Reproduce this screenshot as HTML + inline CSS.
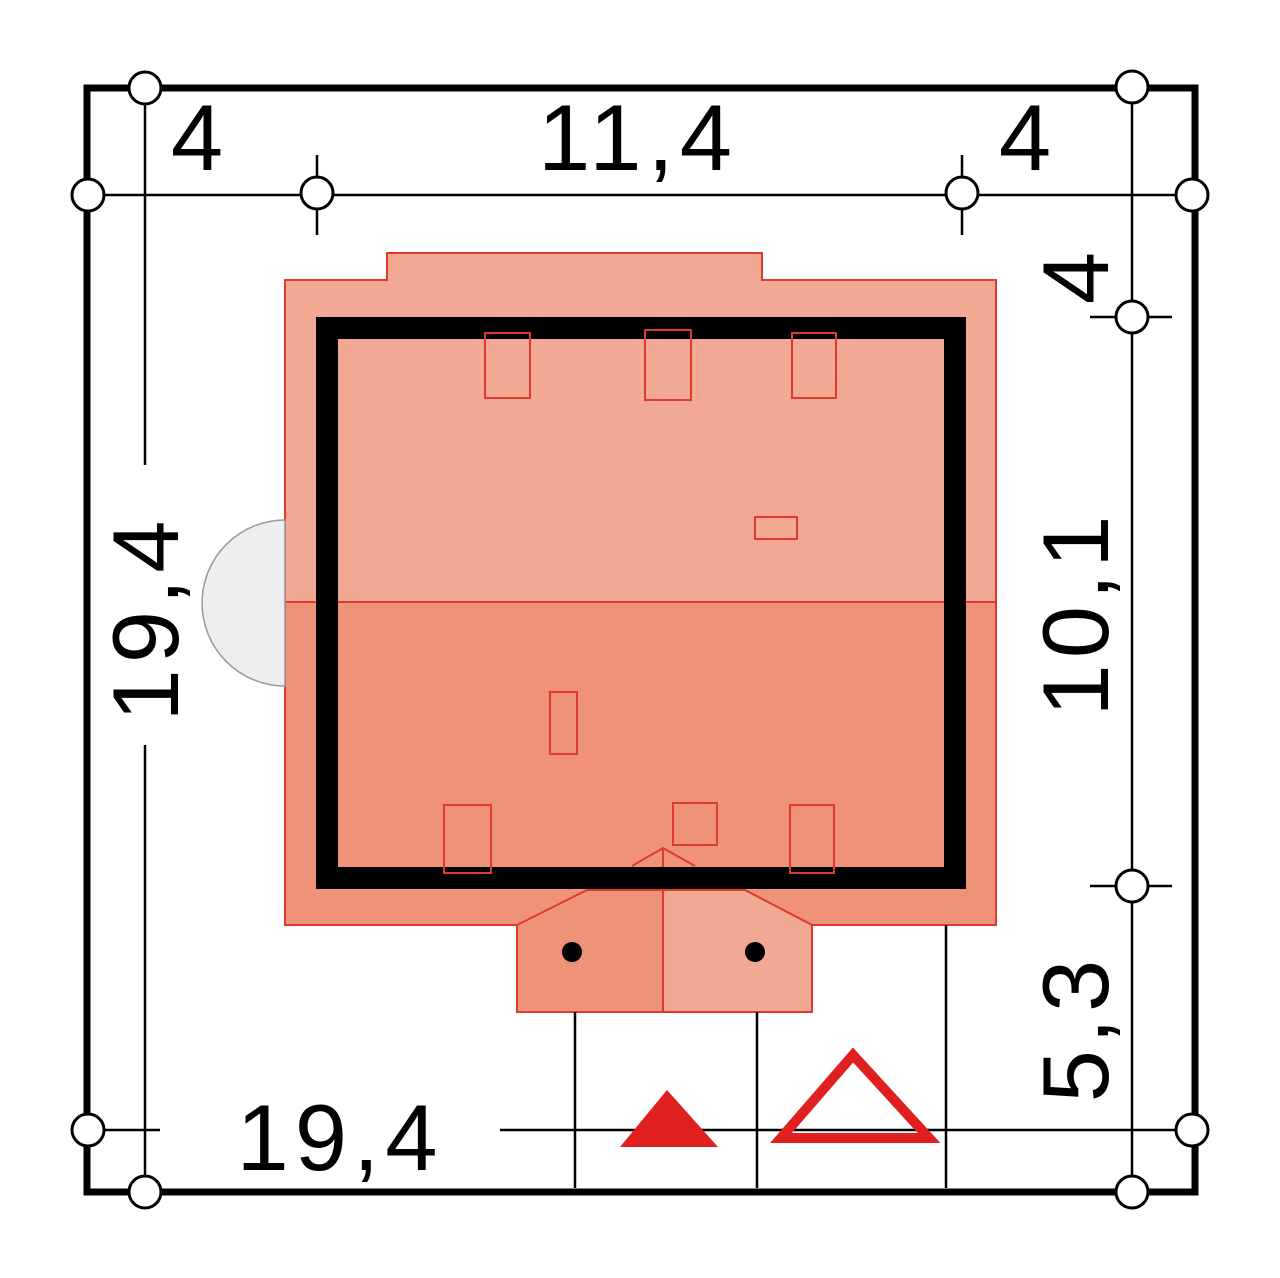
<!DOCTYPE html>
<html><head><style>body{margin:0;background:#fff}svg{display:block}</style></head><body>
<svg width="1280" height="1278" viewBox="0 0 1280 1278" xmlns="http://www.w3.org/2000/svg" font-family="Liberation Sans, sans-serif">
<rect width="1280" height="1278" fill="#fff"/>
<!-- roof -->
<polygon points="285,280 387,280 387,253 762,253 762,280 996,280 996,602 285,602" fill="#f2a994"/>
<polygon points="285,602 996,602 996,925 285,925" fill="#ee9279"/>
<polygon points="285,280 387,280 387,253 762,253 762,280 996,280 996,925 285,925" fill="none" stroke="#e03a30" stroke-width="2"/>
<line x1="285" y1="602" x2="996" y2="602" stroke="#e03a30" stroke-width="2"/>
<path d="M285,520 A83,83 0 0 0 285,686 Z" fill="#eeeef0" stroke="#999" stroke-width="1.5"/>
<!-- porch -->
<polygon points="517,925 587,890 663,890 663,1012 517,1012" fill="#ee9279" stroke="#e03a30" stroke-width="2"/>
<polygon points="663,890 745,890 812,925 812,1012 663,1012" fill="#f2a994" stroke="#e03a30" stroke-width="2"/>
<polyline points="632,866 663,848 695,866" fill="none" stroke="#e03a30" stroke-width="2"/>
<line x1="663" y1="848" x2="663" y2="1012" stroke="#e03a30" stroke-width="2"/>
<circle cx="572" cy="952" r="10" fill="#000"/><circle cx="755" cy="952" r="10" fill="#000"/>
<!-- wall -->
<rect x="327" y="328" width="628" height="550" fill="none" stroke="#000" stroke-width="22"/>
<!-- windows -->
<g fill="none" stroke="#e03a30" stroke-width="2">
<rect x="485" y="333" width="45" height="65"/><rect x="645" y="330" width="46" height="70"/><rect x="792" y="333" width="44" height="65"/>
<rect x="755" y="517" width="42" height="22"/><rect x="550" y="692" width="27" height="62"/>
<rect x="444" y="805" width="47" height="68"/><rect x="673" y="803" width="44" height="42"/><rect x="790" y="805" width="44" height="68"/>
</g>
<!-- outer frame -->
<rect x="87" y="88" width="1108" height="1104" fill="none" stroke="#000" stroke-width="7"/>
<g stroke="#000" stroke-width="2.5" fill="none">
<line x1="145" y1="88" x2="145" y2="465"/><line x1="145" y1="745" x2="145" y2="1192"/>
<line x1="88" y1="195" x2="1192" y2="195"/>
<line x1="317" y1="155" x2="317" y2="235"/><line x1="962" y1="155" x2="962" y2="235"/>
<line x1="1132" y1="87" x2="1132" y2="1192"/>
<line x1="1090" y1="317" x2="1172" y2="317"/><line x1="1090" y1="886" x2="1172" y2="886"/>
<line x1="88" y1="1130" x2="160" y2="1130"/><line x1="500" y1="1130" x2="1192" y2="1130"/>
<line x1="575" y1="1012" x2="575" y2="1188"/><line x1="757" y1="1012" x2="757" y2="1188"/><line x1="946" y1="925" x2="946" y2="1188"/>
</g>
<g fill="#fff" stroke="#000" stroke-width="3">
<circle cx="145" cy="88" r="16"/><circle cx="145" cy="1192" r="16"/>
<circle cx="88" cy="195" r="16"/><circle cx="317" cy="193" r="16"/><circle cx="962" cy="193" r="16"/><circle cx="1192" cy="195" r="16"/>
<circle cx="1132" cy="87" r="16"/><circle cx="1132" cy="317" r="16"/><circle cx="1132" cy="886" r="16"/><circle cx="1132" cy="1192" r="16"/>
<circle cx="88" cy="1130" r="16"/><circle cx="1192" cy="1130" r="16"/>
</g>
<polygon points="620,1147 667,1090 718,1147" fill="#e02020"/>
<polygon points="781,1138 853,1055 929,1138" fill="none" stroke="#e02020" stroke-width="10"/>
<g font-size="94" fill="#000" text-anchor="middle" letter-spacing="6">
<text x="200" y="170">4</text>
<text x="638" y="170">11,4</text>
<text x="1028" y="170">4</text>
<text x="340" y="1170">19,4</text>
<text transform="translate(178,618) rotate(-90)">19,4</text>
<text transform="translate(1108,275) rotate(-90)">4</text>
<text transform="translate(1108,613) rotate(-90)">10,1</text>
<text transform="translate(1108,1028) rotate(-90)">5,3</text>
</g>
</svg>
</body></html>
